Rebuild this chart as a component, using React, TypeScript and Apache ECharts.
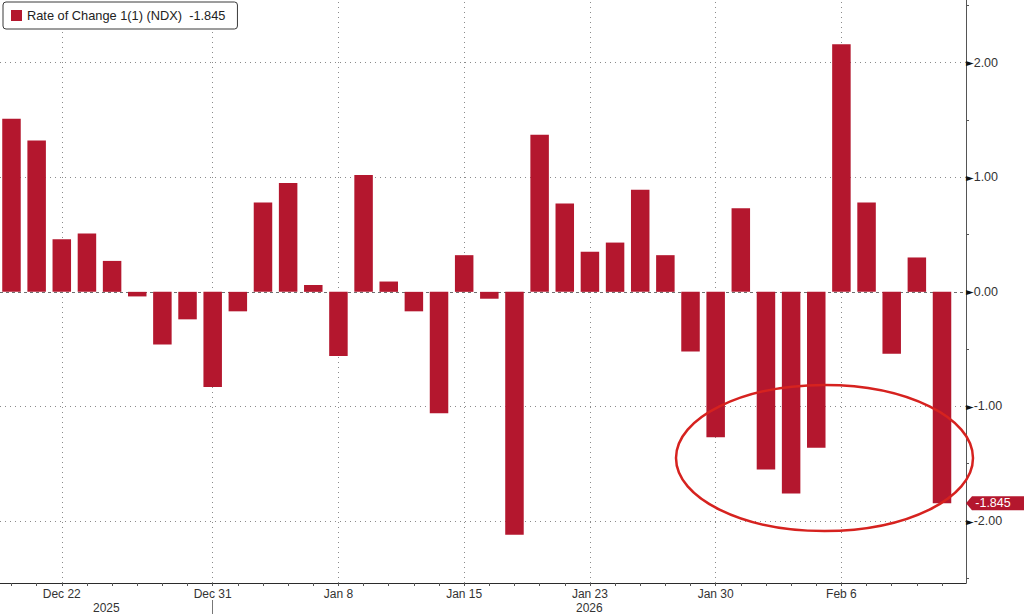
import React, { useEffect, useRef } from "react";
import * as echarts from "echarts";

const seriesName = "Rate of Change 1(1) (NDX)";

const dates = [
  "Dec 18", "Dec 19", "Dec 22", "Dec 23", "Dec 24", "Dec 26", "Dec 29", "Dec 30", "Dec 31",
  "Jan 2", "Jan 5", "Jan 6", "Jan 7", "Jan 8", "Jan 9", "Jan 12", "Jan 13", "Jan 14", "Jan 15",
  "Jan 16", "Jan 20", "Jan 21", "Jan 22", "Jan 23", "Jan 26", "Jan 27", "Jan 28", "Jan 29", "Jan 30",
  "Feb 2", "Feb 3", "Feb 4", "Feb 5", "Feb 6", "Feb 9", "Feb 10", "Feb 11", "Feb 12",
];

const values = [
  1.51, 1.32, 0.46, 0.51, 0.27, -0.04, -0.46, -0.24, -0.83, -0.17,
  0.78, 0.95, 0.06, -0.56, 1.02, 0.09, -0.17, -1.06, 0.32, -0.06,
  -2.12, 1.37, 0.77, 0.35, 0.43, 0.89, 0.32, -0.52, -1.27, 0.73,
  -1.55, -1.76, -1.36, 2.16, 0.78, -0.54, 0.3, -1.845,
];

const labelledDates = ["Dec 22", "Dec 31", "Jan 8", "Jan 15", "Jan 23", "Jan 30", "Feb 6"];
const yLabelValues = [-2, -1, 0, 1, 2];
const yMinorTicks = [-2.5, -1.5, -0.5, 0.5, 1.5, 2.5];
const years = ["2025", "2026"];
const yearBoundaryDate = "Dec 31";

const X_MIN = -0.457;
const X_MAX = 37.954;
const Y_MIN = -2.541;
const Y_MAX = 2.547;

const FONT = "Liberation Sans, Arial, sans-serif";
const BAR_COLOR = "#b4172e";

export default function App() {
  const ref = useRef<HTMLDivElement>(null);

  useEffect(() => {
    document.body.style.margin = "0";
    if (!ref.current) return;
    const chart = echarts.init(ref.current, undefined, { renderer: "svg" });

    const labelIdx = labelledDates.map((d) => dates.indexOf(d));
    const boundary = dates.indexOf(yearBoundaryDate);
    const yearPos = [(X_MIN + boundary) / 2, (boundary + X_MAX) / 2];
    const last = values[values.length - 1];
    const lastIdx = values.length - 1;

    const dotted = { color: "#8a8a8a", type: [1, 4] as any, width: 1 };

    chart.setOption({
      animation: false,
      backgroundColor: "#ffffff",
      textStyle: { fontFamily: FONT },
      legend: {
        data: [seriesName],
        left: 3,
        top: 2,
        icon: "rect",
        itemWidth: 11,
        itemHeight: 11,
        itemGap: 4,
        padding: [7, 12, 7, 8],
        backgroundColor: "#ffffff",
        borderColor: "#3a3a3a",
        borderWidth: 1,
        borderRadius: 3,
        selectedMode: false,
        textStyle: { fontFamily: FONT, fontSize: 12.8, color: "#222" },
        formatter: (name: string) => `${name}  ${last.toFixed(3)}`,
      },
      grid: { left: 0, right: 58, top: 0, bottom: 31, containLabel: false },
      xAxis: [
        {
          type: "value",
          min: X_MIN,
          max: X_MAX,
          position: "bottom",
          splitLine: { show: false },
          axisLine: { show: true, onZero: false, lineStyle: { color: "#2b2b2b", width: 1 } },
          axisTick: {
            show: true,
            customValues: dates.map((_, i) => i),
            length: 3,
            lineStyle: { color: "#555" },
          },
          axisLabel: {
            customValues: labelIdx,
            formatter: (v: number) => dates[Math.round(v)] ?? "",
            color: "#333",
            fontSize: 12,
            fontFamily: FONT,
            margin: 5,
          },
        },
        {
          type: "value",
          min: X_MIN,
          max: X_MAX,
          position: "bottom",
          offset: 17,
          splitLine: { show: false },
          axisLine: { show: false, onZero: false },
          axisTick: {
            show: true,
            customValues: [boundary],
            length: 14,
            lineStyle: { color: "#777" },
          },
          axisLabel: {
            customValues: yearPos,
            formatter: (v: number) => {
              const k = yearPos.findIndex((p) => Math.abs(p - v) < 1e-6);
              return k >= 0 ? years[k] : "";
            },
            color: "#333",
            fontSize: 12,
            fontFamily: FONT,
            margin: 2,
          },
        },
      ],
      yAxis: {
        type: "value",
        position: "right",
        min: Y_MIN,
        max: Y_MAX,
        splitLine: { show: false },
        axisLine: { show: true, onZero: false, lineStyle: { color: "#555", width: 1 } },
        axisTick: {
          show: true,
          customValues: yMinorTicks,
          length: 3,
          lineStyle: { color: "#555" },
        },
        axisLabel: {
          customValues: yLabelValues,
          margin: 0,
          formatter: (v: number) => `{a|►}{v|${v.toFixed(2)}}`,
          rich: {
            a: { fontFamily: "DejaVu Sans", fontSize: 10, color: "#111", padding: [0, 0, 0, 0] },
            v: { fontFamily: FONT, fontSize: 12.5, color: "#333" },
          },
        },
      },
      series: [
        {
          name: "grid",
          type: "line",
          data: [],
          silent: true,
          z: 1,
          markLine: {
            silent: true,
            symbol: "none",
            label: { show: false },
            z: 1,
            data: [
              ...yLabelValues
                .filter((v) => v !== 0)
                .map((v) => ({ yAxis: v, lineStyle: dotted })),
              ...labelIdx.map((i) => ({ xAxis: i, lineStyle: dotted })),
              { yAxis: 0, lineStyle: { color: "#6f6f6f", type: [3, 3] as any, width: 1 } },
            ],
          },
        },
        {
          name: seriesName,
          type: "bar",
          z: 10,
          barWidth: 18.5,
          itemStyle: { color: BAR_COLOR },
          data: values.map((v, i) => [i, v]),
          markPoint: {
            silent: true,
            symbol: "path://M0,7 L6,0 L58,0 L58,14 L6,14 Z",
            symbolSize: [58, 14],
            itemStyle: { color: BAR_COLOR },
            label: {
              show: true,
              position: "inside",
              color: "#ffffff",
              fontSize: 12.5,
              fontFamily: FONT,
              offset: [-2, 0],
              formatter: () => last.toFixed(3),
            },
            data: [{ coord: [lastIdx, last], x: 995 }],
          },
        },
      ],
      graphic: [
        {
          type: "ellipse",
          z: 100,
          silent: true,
          shape: { cx: 824.5, cy: 458, rx: 148.5, ry: 73 },
          style: { fill: "none", stroke: "#d6221f", lineWidth: 2.5 },
        },
      ],
    });

    return () => chart.dispose();
  }, []);

  return <div ref={ref} style={{ width: 1024, height: 614 }} />;
}
